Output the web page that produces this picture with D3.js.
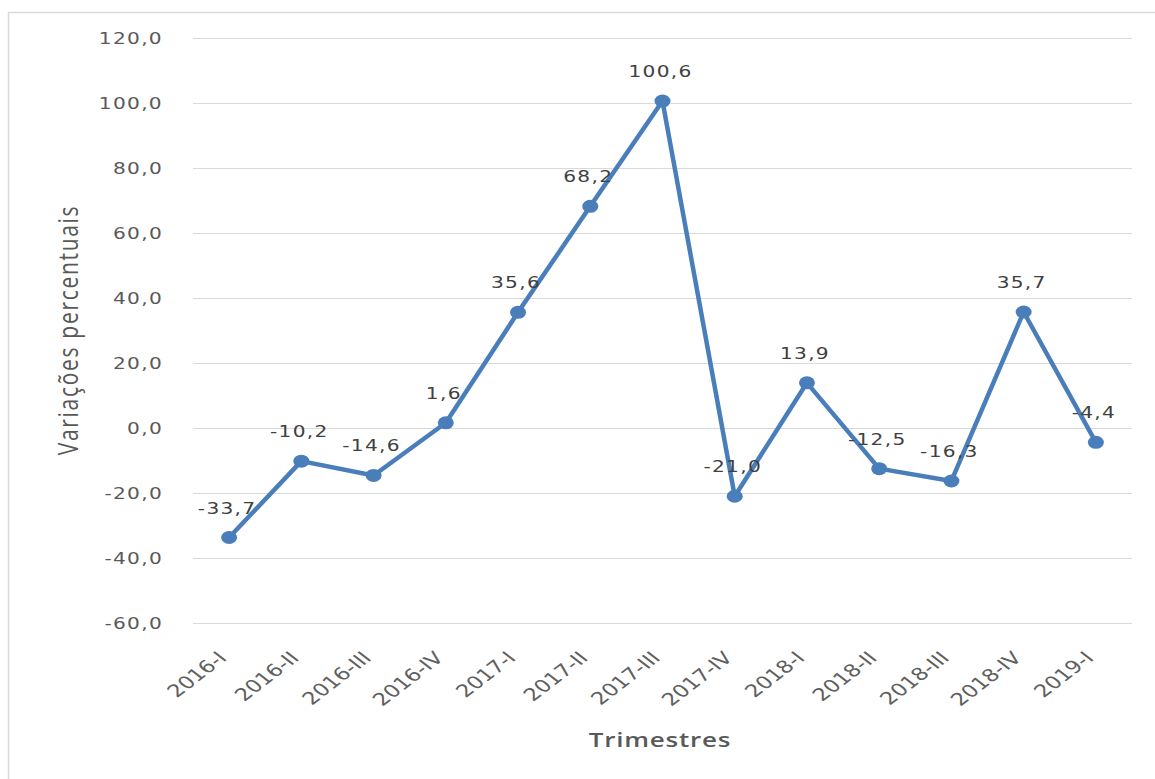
<!DOCTYPE html>
<html>
<head>
<meta charset="utf-8">
<script src="https://cdn.jsdelivr.net/npm/d3@7"></script>
<style>
  html, body { margin: 0; padding: 0; background: #fff; }
  svg { display: block; }
</style>
</head>
<body>
<svg id="chart" width="1155" height="779"></svg>
<script>
const categories = ["2016-I","2016-II","2016-III","2016-IV","2017-I","2017-II","2017-III","2017-IV","2018-I","2018-II","2018-III","2018-IV","2019-I"];
const values = [-33.7, -10.2, -14.6, 1.6, 35.6, 68.2, 100.6, -21.0, 13.9, -12.5, -16.3, 35.7, -4.4];
const yTicks = [-60, -40, -20, 0, 20, 40, 60, 80, 100, 120];
const yTitle = "Variações percentuais";
const xTitle = "Trimestres";

(function () {
const fmt = v => v.toFixed(1).replace(".", ",");
const SX = 1.3; // horizontal stretch of the original image

const svg = d3.select("#chart");
const W = 1155, H = 779;
const pLeft = 193, pRight = 1132, pTop = 38, pBottom = 623;

const x = d3.scaleBand().domain(categories).range([pLeft, pRight]).padding(0);
const y = d3.scaleLinear().domain([-60, 120]).range([pBottom, pTop]);
const cx = d => x(d) + x.bandwidth() / 2;

// frame
svg.append("path")
  .attr("d", `M8.5,${H} L8.5,12.5 L${W},12.5`)
  .attr("fill", "none").attr("stroke", "#d9d9d9").attr("stroke-width", 1.5);

// gridlines
svg.append("g").selectAll("line").data(yTicks).join("line")
  .attr("x1", pLeft).attr("x2", pRight)
  .attr("y1", d => Math.round(y(d)) + 0.5).attr("y2", d => Math.round(y(d)) + 0.5)
  .attr("stroke", "#d9d9d9").attr("stroke-width", 1.2);

// y tick labels
svg.append("g").selectAll("text").data(yTicks).join("text")
  .attr("transform", d => `translate(163,${y(d)}) scale(${SX},1)`)
  .attr("text-anchor", "end").attr("dy", "0.36em")
  .attr("font-family", "DejaVu Sans").attr("font-size", 15.5)
  .attr("letter-spacing", 1)
  .attr("fill", "#595959")
  .text(d => fmt(d));

// x tick labels
svg.append("g").selectAll("text").data(categories).join("text")
  .attr("transform", d => `translate(${cx(d) - 1},659) scale(${SX},1) rotate(-45)`)
  .attr("text-anchor", "end")
  .attr("font-family", "DejaVu Sans").attr("font-size", 17.5)
  .attr("fill", "#606060")
  .text(d => d);

// line
const line = d3.line().x((d, i) => cx(categories[i])).y(d => y(d));
svg.append("path").datum(values)
  .attr("d", line)
  .attr("fill", "none").attr("stroke", "#4a7ebb")
  .attr("stroke-width", 4.5).attr("stroke-linejoin", "round");

// markers
svg.append("g").selectAll("ellipse").data(values).join("ellipse")
  .attr("cx", (d, i) => cx(categories[i]))
  .attr("cy", d => y(d))
  .attr("rx", 8).attr("ry", 6.5)
  .attr("fill", "#4a7ebb");

// data labels
svg.append("g").selectAll("text").data(values).join("text")
  .attr("transform", (d, i) => `translate(${cx(categories[i]) - 2},${y(d) - 24}) scale(${SX},1)`)
  .attr("text-anchor", "middle")
  .attr("font-family", "DejaVu Sans").attr("font-size", 15.5)
  .attr("letter-spacing", 1)
  .attr("fill", "#404040")
  .text(d => fmt(d));

// axis titles
svg.append("text")
  .attr("transform", `translate(78,330) scale(${SX},1) rotate(-90)`)
  .attr("text-anchor", "middle")
  .attr("font-family", "Open Sans").attr("font-size", 21)
  .attr("letter-spacing", 1.7)
  .attr("fill", "#595959")
  .text(yTitle);

svg.append("text")
  .attr("transform", `translate(660,747) scale(${SX},1)`)
  .attr("text-anchor", "middle")
  .attr("font-family", "Open Sans").attr("font-weight", 600).attr("font-size", 20)
  .attr("letter-spacing", 0.6)
  .attr("fill", "#595959")
  .text(xTitle);
})();
</script>
</body>
</html>
